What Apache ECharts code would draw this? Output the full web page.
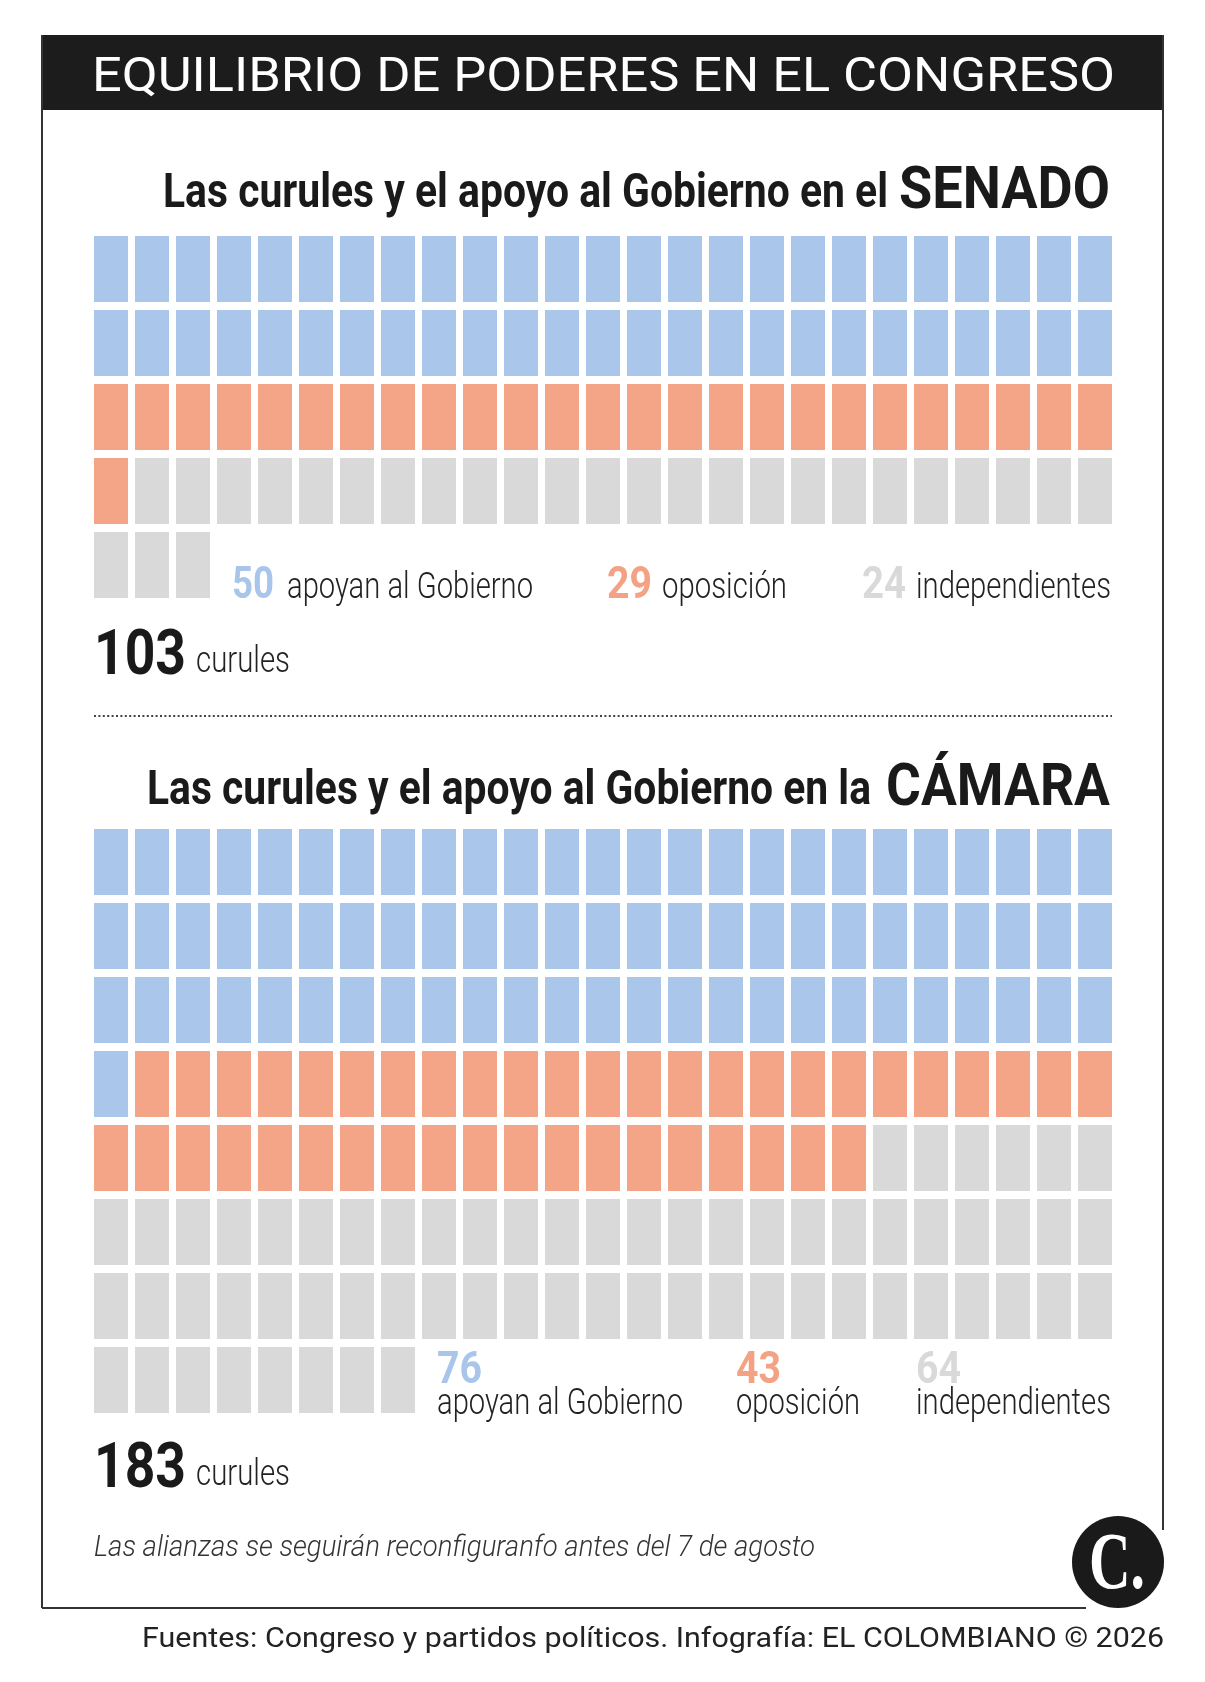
<!DOCTYPE html>
<html>
<head>
<meta charset="utf-8">
<script src="https://cdn.jsdelivr.net/npm/echarts@6/dist/echarts.min.js"></script>
<style>
  html, body { margin: 0; padding: 0; background: #fff; }
  #chart { width: 1205px; height: 1682px; }
</style>
</head>
<body>
<div id="chart"></div>
<script>
var categorias = ['apoyan al Gobierno', 'oposición', 'independientes'];
var senadoValores = [50, 29, 24];
var senadoCuadros = [50, 26, 27];   // cuadros tal como aparecen dibujados
var senadoTotal = 103;
var camaraValores = [76, 43, 64];
var camaraCuadros = [76, 43, 64];
var camaraTotal = 183;

var COLS = 25;
var colores = ['#aac7eb', '#f4a588', '#d9d9d9'];
var colorNum = ['#a9c6ea', '#f3a284', '#d9d9d9'];

var ctx = document.createElement('canvas').getContext('2d');

// texto condensado: se mide y se ajusta al ancho que ocupa en el original
function texto (str, x, base, size, weight, color, align, ancho, estilo, familia) {
  var font = (estilo || 'normal') + ' ' + weight + ' ' + size + 'px ' + (familia || 'Roboto')
  ctx.font = font
  var sx = ancho ? ancho / ctx.measureText(str).width : 0.82
  return {
    type: 'text', x: x, y: base - 0.24 * size, scaleX: sx, silent: true,
    style: { text: str, font: font, fill: color, textAlign: align || 'left', textVerticalAlign: 'middle' }
  }
}

function cuadros (counts) {
  var out = []
  var i = 0
  counts.forEach(function (n, k) {
    for (var j = 0; j < n; j++) {
      out.push([i % COLS, Math.floor(i / COLS), k])
      i++
    }
  })
  return out
}

function renderCell (params, api) {
  var p = api.coord([api.value(0), api.value(1)])
  var s = api.size([1, 1])
  return {
    type: 'rect',
    shape: { x: p[0], y: p[1], width: s[0] - 7, height: s[1] - 8 },
    style: { fill: colores[api.value(2)] }
  }
}

var graficos = [
  { type: 'rect', shape: { x: 42, y: 35, width: 1121, height: 75 }, style: { fill: '#1c1c1c' }, silent: true },
  { type: 'line', shape: { x1: 42, y1: 35, x2: 42, y2: 1608 }, style: { stroke: '#333', lineWidth: 2 }, silent: true },
  { type: 'line', shape: { x1: 42, y1: 1608, x2: 1086, y2: 1608 }, style: { stroke: '#333', lineWidth: 2 }, silent: true },
  { type: 'line', shape: { x1: 1163, y1: 35, x2: 1163, y2: 1530 }, style: { stroke: '#333', lineWidth: 2 }, silent: true },
  { type: 'line', shape: { x1: 94, y1: 716, x2: 1112, y2: 716 }, style: { stroke: '#444', lineWidth: 2, lineDash: [2, 2.4] }, silent: true },
  { type: 'circle', shape: { cx: 1118, cy: 1562, r: 46 }, style: { fill: '#1a1a1a' }, silent: true },
  texto('C.', 1089, 1587, 80, 'bold', '#fff', 'left', 56, 'normal', '"Liberation Serif"'),

  texto('EQUILIBRIO DE PODERES EN EL CONGRESO', 92, 91, 48, 400, '#fff', 'left', 1023),

  texto('Las curules y el apoyo al Gobierno en el', 888, 207, 49, 'bold', '#1a1a1a', 'right', 725),
  texto('SENADO', 1110, 207, 60, 'bold', '#1a1a1a', 'right', 211),
  texto('Las curules y el apoyo al Gobierno en la', 871, 804, 49, 'bold', '#1a1a1a', 'right', 724),
  texto('CÁMARA', 1110, 804, 60, 'bold', '#1a1a1a', 'right', 224),

  texto(String(senadoTotal), 94, 673, 63, 'bold', '#1a1a1a', 'left', 92),
  texto('curules', 196, 672, 37, 300, '#222', 'left', 94),
  texto(String(camaraTotal), 94, 1486, 63, 'bold', '#1a1a1a', 'left', 92),
  texto('curules', 196, 1485, 37, 300, '#222', 'left', 94),

  texto('Las alianzas se seguirán reconfiguranfo antes del 7 de agosto', 94, 1556, 30, 300, '#333', 'left', 721, 'italic'),
  texto('Fuentes: Congreso y partidos políticos. Infografía: EL COLOMBIANO © 2026', 1164, 1647, 28, 400, '#222', 'right', 1022)
]

// leyenda del Senado: cifra y texto en la misma linea
var senNumX = [232, 607, 862]
var senNumW = [42, 45, 44]
var senLabX = [287, 662, 916]
var senLabW = [246, 125, 195]
senadoValores.forEach(function (v, k) {
  graficos.push(texto(String(v), senNumX[k], 598, 44, 'bold', colorNum[k], 'left', senNumW[k]))
  graficos.push(texto(categorias[k], senLabX[k], 598, 37, 300, '#222', 'left', senLabW[k]))
})

// leyenda de la Cámara: cifra encima del texto
var camX = [437, 736, 916]
var camLabW = [246, 124, 195]
camaraValores.forEach(function (v, k) {
  graficos.push(texto(String(v), camX[k], 1383, 44, 'bold', colorNum[k], 'left', 45))
  graficos.push(texto(categorias[k], camX[k], 1414, 37, 300, '#222', 'left', camLabW[k]))
})

var myChart = echarts.init(document.getElementById('chart'), null, { renderer: 'canvas' })
var option = {
  backgroundColor: '#fff',
  animation: false,
  grid: [
    { left: 94, top: 236, width: 1025, height: 370 },
    { left: 94, top: 829, width: 1025, height: 592 }
  ],
  xAxis: [
    { gridIndex: 0, type: 'value', min: 0, max: COLS, show: false },
    { gridIndex: 1, type: 'value', min: 0, max: COLS, show: false }
  ],
  yAxis: [
    { gridIndex: 0, type: 'value', min: 0, max: Math.ceil(senadoTotal / COLS), inverse: true, show: false },
    { gridIndex: 1, type: 'value', min: 0, max: Math.ceil(camaraTotal / COLS), inverse: true, show: false }
  ],
  series: [
    { type: 'custom', name: 'Senado', xAxisIndex: 0, yAxisIndex: 0, renderItem: renderCell, data: cuadros(senadoCuadros), silent: true },
    { type: 'custom', name: 'Cámara', xAxisIndex: 1, yAxisIndex: 1, renderItem: renderCell, data: cuadros(camaraCuadros), silent: true }
  ],
  graphic: graficos
}
myChart.setOption(option)
</script>
</body>
</html>
